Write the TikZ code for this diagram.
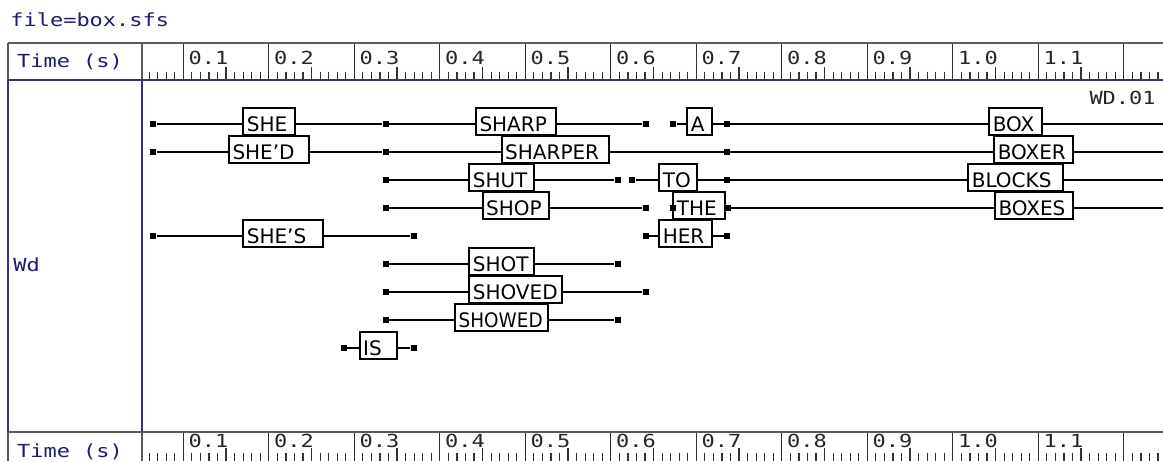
\documentclass[tikz,border=0pt]{standalone}
\usepackage{fontspec}
\setmainfont{DejaVu Sans}
\newfontfamily\pixmono{DejaVu Sans Mono}
\newcommand\mystretch[1]{\scalebox{1.22}[1]{#1}}
\definecolor{navyline}{RGB}{50,50,130}
\definecolor{navytext}{RGB}{30,30,110}
\definecolor{framegray}{RGB}{90,90,90}
\begin{document}
\begin{tikzpicture}[x=0.5pt,y=-0.5pt,
  sq/.style={fill=black, draw=none, rectangle, inner sep=0pt, minimum size=3pt},
  wbox/.style={draw=black, line width=1pt, fill=white, rectangle, inner xsep=1.75pt, inner ysep=0pt,
    minimum height=13.5pt, text height=9.8pt, text depth=0pt, align=left, font=\fontsize{10}{12}\selectfont},
  conn/.style={line width=1pt, draw=black},
  mlab/.style={font=\pixmono\fontsize{9}{10}\selectfont, inner sep=0pt, anchor=base west},
  tick/.style={line width=0.6pt, draw=black!80}]
\useasboundingbox (0,0) rectangle (1163,461);
\fill[white] (0,0) rectangle (1163,461);
\begin{scope}
\clip (0,0) rectangle (1163,461);
% ---- ticks
\foreach \i in {6,...,124}{
  \pgfmathsetmacro\tx{97.8+8.55*\i}
  \pgfmathtruncatemacro\tm{mod(\i,10)}
  \ifnum\tm=0
    \draw[tick] (\tx,43) -- (\tx,80);
    \draw[tick] (\tx,431.7) -- (\tx,461);
  \else
    \ifnum\tm=5
      \draw[tick] (\tx,67) -- (\tx,80);
      \draw[tick] (\tx,448) -- (\tx,461);
    \else
      \draw[tick] (\tx,71.5) -- (\tx,80);
      \draw[tick] (\tx,453) -- (\tx,461);
    \fi
  \fi
}
\foreach \k/\lab in {1/0.1,2/0.2,3/0.3,4/0.4,5/0.5,6/0.6,7/0.7,8/0.8,9/0.9,10/1.0,11/1.1}{
  \pgfmathsetmacro\lx{97.8+85.5*\k+5}
  \node[mlab, text=black!85] (tl\k) at (\lx,64.3) {\mystretch{\lab}};
  \node[mlab, text=black!85] (bl\k) at (\lx,447.5) {\mystretch{\lab}};
}
% ---- frame
\draw[framegray, line width=1.2pt] (8,43) -- (1163,43);
\draw[framegray, line width=1.2pt] (8,431.7) -- (1163,431.7);
\draw[framegray, line width=1.2pt] (8,43) -- (8,80) (141.7,43) -- (141.7,80)
  (8,431.7) -- (8,461) (141.7,431.7) -- (141.7,461);
\draw[navyline, line width=1.1pt] (8,80) -- (1163,80);
\draw[navyline, line width=1.1pt] (8,80) -- (8,431.7) (141.7,80) -- (141.7,431.7);
% ---- texts
\node[mlab, text=navytext] (file) at (10,26.7) {\mystretch{file=box.sfs}};
\node[mlab, text=navytext] (ttop) at (16.7,67.7) {\mystretch{Time (s)}};
\node[mlab, text=navytext] (tbot) at (16.7,457) {\mystretch{Time (s)}};
\node[mlab, text=navytext] (wd) at (13,271.5) {\mystretch{Wd}};
\node[mlab, anchor=base east, text=black!85] (wd01) at (1156,104) {\mystretch{WD.01}};
% ---- row 1
\node[sq] (s1a) at (153.3,124.3) {};
\node[sq] (s1b) at (385.7,124.3) {};
\node[sq] (s1c) at (645.7,124.3) {};
\node[sq] (s1d) at (673.3,124.3) {};
\node[sq] (s1e) at (727,124.3) {};
\coordinate (r1) at (1163,124.3);
\node[wbox, text width=22.35pt] (she) at (269.15,121.8) {SHE};
\node[wbox, text width=36.35pt] (sharp) at (515.85,121.8) {SHARP};
\node[wbox, text width=8.7pt] (a) at (699.5,121.8) {A};
\node[wbox, text width=22.7pt] (box) at (1015.5,121.8) {BOX};
% ---- row 2
\node[sq] (s2a) at (153.3,152.3) {};
\node[sq] (s2b) at (385.7,152.3) {};
\node[sq] (s2c) at (727,152.3) {};
\coordinate (r2) at (1163,152.3);
\node[wbox, text width=36.65pt] (shed) at (269.15,149.8) {SHE'D};
\node[wbox, text width=50.3pt] (sharper) at (555.5,149.8) {SHARPER};
\node[wbox, text width=36pt] (boxer) at (1033.8,149.8) {BOXER};
% ---- row 3
\node[sq] (s3b) at (385.7,180.3) {};
\node[sq] (s3c) at (617.7,180.3) {};
\node[sq] (s3d) at (632.3,180.3) {};
\node[sq] (s3e) at (727,180.3) {};
\coordinate (r3) at (1163,180.3);
\node[wbox, text width=29pt] (shut) at (501.8,177.8) {SHUT};
\node[wbox, text width=15.5pt] (to) at (678.3,177.8) {TO};
\node[wbox, text width=43.7pt] (blocks) at (1015.5,177.8) {BLOCKS};
% ---- row 4
\node[sq] (s4b) at (385.7,208.3) {};
\node[sq] (s4c) at (645.7,208.3) {};
\coordinate (r4) at (1163,208.3);
\node[wbox, text width=29.65pt] (shop) at (515.85,205.8) {SHOP};
\node[wbox, text width=22.35pt] (the) at (699.15,205.8) {THE};
\node[sq] (s4d) at (673.3,208.3) {};
\node[sq] (s4e) at (727.7,208.3) {};
\node[wbox, text width=35.65pt] (boxes) at (1034.15,205.8) {BOXES};
% ---- row 5
\node[sq] (s5a) at (153.3,236.3) {};
\node[sq] (s5b) at (413.5,236.3) {};
\node[sq] (s5c) at (645.7,236.3) {};
\node[sq] (s5d) at (727,236.3) {};
\node[wbox, text width=36.2pt] (shes) at (283,233.8) {SHE'S};
\node[wbox, text width=22.7pt] (her) at (685.5,233.8) {HER};
% ---- rows 6-9
\node[sq] (s6a) at (385.7,264.3) {};
\node[sq] (s6b) at (617.7,264.3) {};
\node[wbox, text width=28.85pt] (shot) at (501.65,261.8) {SHOT};
\node[sq] (s7a) at (385.7,292.3) {};
\node[sq] (s7b) at (645.7,292.3) {};
\node[wbox, text width=42.9pt] (shoved) at (515.7,289.8) {SHOVED};
\node[sq] (s8a) at (385.7,320.3) {};
\node[sq] (s8b) at (617.7,320.3) {};
\node[wbox, text width=43.1pt] (showed) at (501.8,317.8) {\scalebox{0.92}[1]{SHOWED}};
\node[sq] (s9a) at (344,348.3) {};
\node[sq] (s9b) at (413.5,348.3) {};
\node[wbox, text width=15.3pt] (is) at (378.5,345.8) {IS};
% ---- connectors
\draw[conn] (s1a) -- (s1a -| she.west) (she.east |- s1a) -- (s1b) -- (s1b -| sharp.west)
  (sharp.east |- s1b) -- (s1c) (s1d) -- (s1d -| a.west) (a.east |- s1d) -- (s1e) -- (s1e -| box.west)
  (box.east |- s1e) -- (r1);
\draw[conn] (s2a) -- (s2a -| shed.west) (shed.east |- s2a) -- (s2b) -- (s2b -| sharper.west)
  (sharper.east |- s2b) -- (s2c) -- (s2c -| boxer.west) (boxer.east |- s2c) -- (r2);
\draw[conn] (s3b) -- (s3b -| shut.west) (shut.east |- s3b) -- (s3c) (s3d) -- (s3d -| to.west)
  (to.east |- s3d) -- (s3e) -- (s3e -| blocks.west) (blocks.east |- s3e) -- (r3);
\draw[conn] (s4b) -- (s4b -| shop.west) (shop.east |- s4b) -- (s4c)
  (the.east |- s4e) -- (s4e) -- (s4e -| boxes.west) (boxes.east |- s4e) -- (r4);
\draw[conn] (s5a) -- (s5a -| shes.west) (shes.east |- s5a) -- (s5b) (s5c) -- (s5c -| her.west)
  (her.east |- s5c) -- (s5d);
\draw[conn] (s6a) -- (s6a -| shot.west) (shot.east |- s6a) -- (s6b);
\draw[conn] (s7a) -- (s7a -| shoved.west) (shoved.east |- s7a) -- (s7b);
\draw[conn] (s8a) -- (s8a -| showed.west) (showed.east |- s8a) -- (s8b);
\draw[conn] (s9a) -- (s9a -| is.west) (is.east |- s9a) -- (s9b);
\end{scope}
\end{tikzpicture}
\end{document}
